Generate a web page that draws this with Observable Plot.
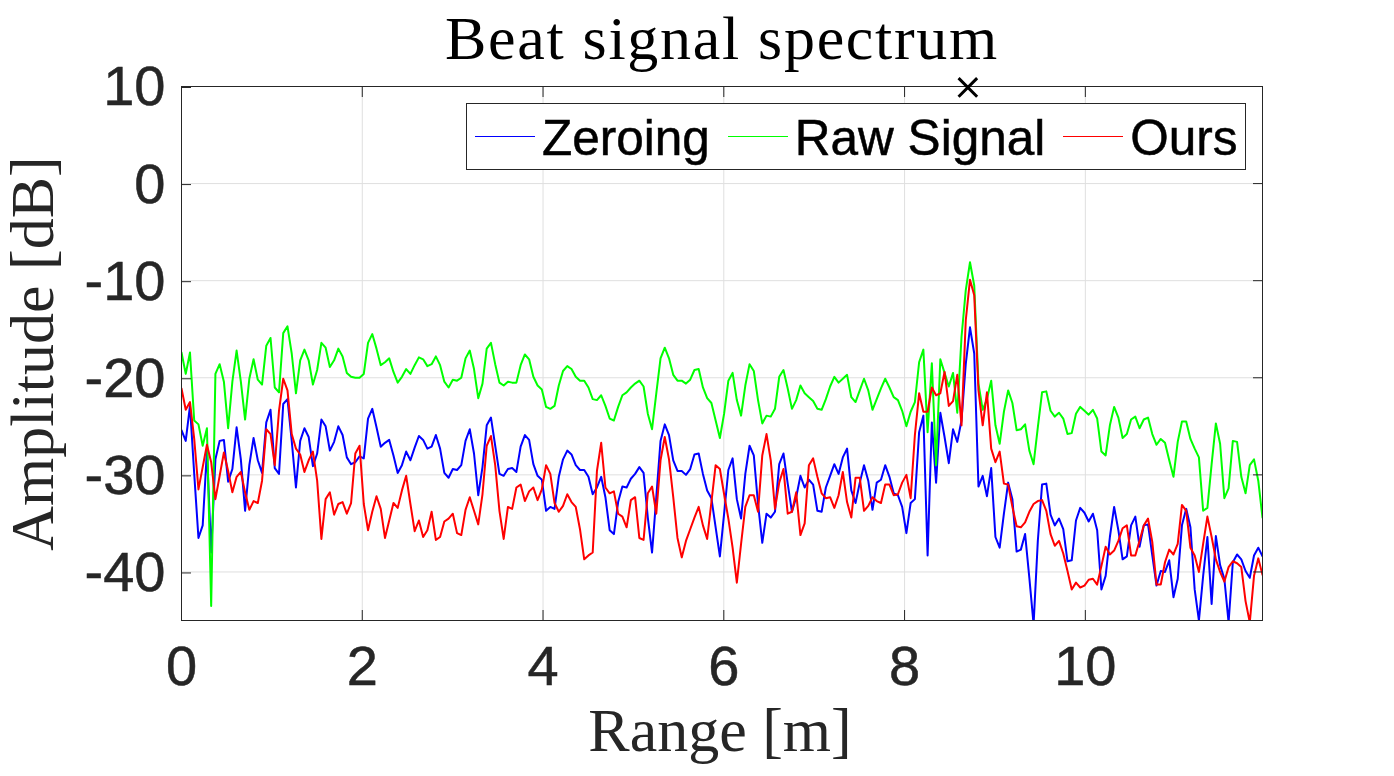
<!DOCTYPE html>
<html>
<head>
<meta charset="utf-8">
<script src="https://cdn.jsdelivr.net/npm/d3@7"></script>
<script src="https://cdn.jsdelivr.net/npm/@observablehq/plot@0.6"></script>
<style>
  body { margin: 0; background: #fff; width: 1394px; height: 776px; position: relative; overflow: hidden; }
  #title { position: absolute; left: 50px; right: 0; top: 0; height: 66px; line-height: 76px; text-align: center; font-family: "Liberation Serif", serif; font-size: 62px; letter-spacing: 1.7px; color: #000; white-space: nowrap; }
  #legend { position: absolute; left: 466px; top: 103px; width: 780px; height: 67px; box-sizing: border-box; border: 1px solid #262626; background: #fff; display: flex; align-items: center; font-family: "Liberation Sans", sans-serif; font-size: 49.5px; color: #000; -webkit-text-stroke: 0.5px #000; }
  #legend i { display: inline-block; width: 60px; height: 1.6px; margin: 0 7px 0 18px; }
  #legend i:first-child { margin-left: 8px; }
  #legend span { white-space: nowrap; position: relative; top: 1px; }
  svg g[aria-label$="tick label"] { stroke: #262626; stroke-width: 0.5px; }
</style>
</head>
<body>
<div id="chart"></div>
<div id="title">Beat signal spectrum</div>
<div id="legend"></div>
<script>
const binStep = 11.96 / 255

const zeroing = [
  -25.4,-26.5,-22.9,-29.9,-36.5,-35.2,-27.5,-38,-28.4,-26.5,
  -26.4,-30.7,-29.4,-25.1,-28.4,-33.7,-29,-26.2,-28.5,-29.8,
  -24.6,-23.3,-29.3,-29.9,-22.7,-22.2,-26.5,-31.3,-26.5,-25.2,
  -26.1,-29.1,-27.8,-24.3,-25,-27.5,-26.6,-25,-25.9,-28.2,
  -28.9,-28.7,-28.1,-28.3,-24.2,-23.2,-25.1,-27.1,-26.7,-26.4,
  -28,-29.8,-29,-27.6,-28.5,-27.2,-26,-26.4,-27.3,-27.1,
  -25.9,-27.3,-29.8,-30.3,-29.4,-29.5,-29,-26.5,-25.3,-27.8,
  -32.1,-29.2,-24.9,-24.1,-27,-29.9,-30.1,-29.4,-29.3,-29.7,
  -27.1,-25.9,-26.4,-28.9,-30.1,-30.5,-33.7,-33.3,-33.5,-30.2,
  -28.4,-27.5,-27.9,-29,-29.5,-29.5,-30.2,-32,-31.3,-30.2,
  -32.3,-35.7,-36.1,-32.8,-31.2,-31.3,-30.4,-29.9,-29.2,-29.8,
  -34.4,-38,-32.3,-26.5,-24.8,-25.9,-28.5,-29.6,-29.6,-30,
  -29.4,-27.9,-27.8,-29.9,-31.6,-32.4,-35.4,-38.4,-34,-29.5,
  -28.3,-32.5,-34.5,-29.9,-27,-28,-33,-37,-34,-34.4,
  -33.8,-28.9,-27.8,-30.9,-33.8,-32.3,-30.1,-31.3,-30.5,-31,
  -33.7,-33.8,-31.3,-30.1,-28.9,-29.9,-28.2,-27.3,-31.6,-32.9,
  -30.8,-29,-30.6,-33.6,-30.8,-30.5,-29,-30.2,-31.9,-32.1,
  -33.3,-36,-32.9,-32.5,-25.6,-23.9,-38.3,-24.6,-30.8,-23.6,
  -26.1,-28.8,-25.3,-26.6,-24.4,-18.6,-14.8,-17.5,-31.2,-30.1,
  -32.2,-29.3,-36.4,-37.5,-34,-30.8,-32.5,-37.9,-37.7,-36.1,
  -40.6,-45.4,-36.8,-31,-30.9,-34.1,-35.2,-34.5,-35.6,-38.9,
  -38.8,-34.7,-33.4,-33.9,-34.8,-34,-35.7,-41.8,-40.4,-36.4,
  -33.3,-35.7,-38.7,-38.4,-35.2,-34.3,-37.4,-35.2,-35.1,-38.3,
  -41.4,-39.9,-40,-38.8,-42.6,-40.7,-35.2,-33.5,-35.4,-41.8,
  -45,-40.4,-36.4,-43.3,-36.3,-39.3,-40.7,-45.2,-39,-38.2,
  -38.7,-39.9,-40.6,-38.3,-37.5,-38.4
]

const rawSignal = [
  -17.4,-19.6,-17.4,-24.4,-24.8,-27,-25.2,-43.5,-19.6,-18.6,
  -20.4,-25.2,-20.4,-17.2,-20.4,-24.3,-20.1,-18.1,-20.2,-20.7,
  -16.7,-15.9,-21,-21.5,-15.4,-14.7,-17.5,-21.6,-18.2,-17.1,
  -18.2,-20.7,-19.2,-16.4,-16.9,-18.9,-18.2,-17,-17.8,-19.5,
  -19.9,-20,-20,-19.6,-16.4,-15.5,-17,-18.7,-18.4,-18,
  -19.4,-20.5,-19.9,-19.1,-19.6,-18.7,-17.9,-18.1,-18.8,-18.6,
  -17.8,-18.7,-20.4,-21,-20.2,-20.3,-20,-18,-17.2,-19.1,
  -22.1,-20.6,-17,-16.4,-18.6,-20.5,-20.8,-20.4,-20.5,-20.5,
  -18.7,-17.6,-18.1,-19.9,-20.8,-21.2,-23,-23.2,-22.9,-20.8,
  -19.3,-18.8,-19.1,-19.9,-20.3,-20.3,-21,-22.2,-22.3,-21.8,
  -22.9,-24.2,-24.4,-23,-21.8,-21.5,-21,-20.6,-20.3,-20.9,
  -23.7,-25.3,-21.6,-18,-16.9,-18,-19.7,-20.3,-20.3,-20.6,
  -20.2,-19.2,-19.1,-21,-22.1,-22.6,-24.4,-26.2,-23.7,-20.3,
  -19.5,-22.3,-23.9,-20.8,-18.6,-19.3,-22.3,-24.7,-23.9,-24,
  -23.2,-19.9,-19.2,-21.1,-23.2,-22.3,-20.8,-21.6,-22,-22.4,
  -23.2,-23.3,-22.2,-20.9,-19.9,-20.5,-20.1,-19.7,-22,-22.5,
  -21.3,-20.1,-21.3,-23.3,-22.2,-21.1,-20.1,-21,-22,-22.3,
  -23.4,-25,-23.5,-22.5,-18.4,-17.1,-25.6,-18.5,-29,-18.1,
  -19.5,-20.9,-19.5,-23.6,-15.8,-11,-8.1,-10.5,-20.6,-23.3,
  -22.2,-20.3,-24.9,-26.8,-23.5,-21.3,-22.6,-25.4,-25.3,-24.8,
  -27.5,-28.9,-25.1,-21.5,-21.4,-23.4,-24,-23.6,-24.2,-25.8,
  -25.7,-23.7,-23,-23.4,-23.8,-23.3,-24.2,-27.6,-28,-24.9,
  -23,-24.1,-26.2,-25.8,-24.3,-24,-25.2,-24.3,-24.1,-25.8,
  -26.9,-26.3,-26.7,-28.5,-30.2,-26.6,-24.5,-24.5,-26.3,-27.3,
  -28.2,-33.7,-33.4,-28.9,-24.7,-26.8,-32.4,-31.4,-26.5,-26.6,
  -30.2,-31.9,-29,-28.4,-30.6,-34.4
]

const ours = [
  -21.1,-23.3,-22.5,-26.3,-31.5,-29.2,-26.9,-28.7,-32.5,-30.1,
  -27.7,-29.6,-31.8,-30.2,-29.7,-31.8,-33.6,-32.7,-32.9,-30.6,
  -25.3,-25.8,-29,-23.4,-20.1,-21.3,-25.8,-27.3,-27.9,-29.7,
  -28.5,-27.6,-30.6,-36.6,-32.5,-31.8,-34.1,-33,-32.8,-34,
  -32.9,-27.8,-27,-33,-35.7,-33.8,-32.2,-33.5,-36.5,-34.7,
  -32.9,-33.4,-31.6,-30.1,-33,-35.8,-34.7,-36.4,-35.7,-33.8,
  -36.7,-36.4,-34.8,-34.5,-34,-36,-36.2,-33.6,-32.3,-33.7,
  -35.1,-32,-27,-26,-29,-33.7,-36.6,-33.3,-33.5,-31.3,
  -31,-32.7,-31.7,-31.3,-32.6,-31.5,-29,-29.9,-32.9,-33.8,
  -33.2,-32,-32.8,-33.3,-35.6,-38.7,-38.3,-38,-29.6,-26.7,
  -31.3,-31.9,-31.7,-34,-34.3,-35.4,-32.6,-32.3,-36.5,-36.7,
  -31.9,-31.2,-34,-28.5,-26.1,-28.4,-32.3,-36.5,-38.5,-36.8,
  -35.6,-34.4,-33.3,-35.2,-36.6,-32.8,-29,-29.4,-32,-34.5,
  -37.5,-41.1,-37.1,-33.3,-32.1,-32.1,-33.8,-28,-25.8,-28.5,
  -33.5,-30.8,-29.4,-34,-33.8,-31.8,-36.2,-35,-29,-28.3,
  -30.2,-31.9,-32.4,-32.3,-33.4,-32.1,-29.7,-32.8,-34.4,-30.3,
  -30.3,-33.7,-33.2,-32.3,-32.7,-32.9,-31,-31,-32.1,-32,
  -30.8,-30,-32.4,-25.9,-21.6,-23.5,-23.5,-21,-21.8,-21.6,
  -19.4,-22.9,-22.4,-19.7,-24.9,-14.1,-9.9,-11.5,-21.3,-24.9,
  -21.5,-27.3,-28.7,-27.6,-30.9,-31,-33.3,-35.3,-35.4,-34.9,
  -33.8,-33,-32.7,-32.6,-33.7,-36.1,-37.3,-36.8,-38.1,-39.9,
  -41.8,-41.1,-41.6,-41.4,-40.8,-40.7,-41.3,-39.4,-37.4,-38.2,
  -37.8,-36.8,-35.5,-35.2,-38.3,-38.3,-36.8,-35.2,-34.5,-36.9,
  -41.3,-41.3,-39,-37.7,-38.2,-37.1,-33.1,-33.7,-37.5,-38.3,
  -40,-37.1,-34.3,-36.4,-38.7,-40,-41,-39.5,-38.9,-39.1,
  -39.5,-43,-45.2,-40.4,-38.6,-40.3
]

const xTicks = [0, 2, 4, 6, 8, 10]
const yTicks = [-40, -30, -20, -10, 0, 10]
const peakMarker = [{x: 8.7, y: 9.9}]

const series = [
  {name: "Zeroing", values: zeroing, color: "#0000ff"},
  {name: "Raw Signal", values: rawSignal, color: "#00ff00"},
  {name: "Ours", values: ours, color: "#ff0000"}
]

const ink = "#262626"
const serif = "'Liberation Serif', serif"
const sans = "'Liberation Sans', sans-serif"

const chart = Plot.plot({
  width: 1394,
  height: 776,
  marginTop: 86,
  marginBottom: 156,
  marginLeft: 181,
  marginRight: 132,
  x: {domain: [0, 11.96]},
  y: {domain: [-45, 10]},
  marks: [
    Plot.gridX(xTicks, {stroke: "#dfdfdf", strokeOpacity: 1}),
    Plot.gridY(yTicks, {stroke: "#dfdfdf", strokeOpacity: 1}),
    ...series.map(s => Plot.lineY(s.values, {
      x: (d, i) => i * binStep,
      y: d => d,
      stroke: s.color,
      strokeWidth: 2,
      clip: true
    })),
    Plot.frame({stroke: ink, strokeWidth: 1}),
    Plot.axisX({ticks: xTicks, anchor: "bottom", tickSize: -10, tickPadding: 35, fontSize: 56, fontFamily: sans, fill: ink, stroke: ink, label: null}),
    Plot.axisX({ticks: xTicks, anchor: "top", tickSize: -10, text: null, stroke: ink, label: null}),
    Plot.axisY({ticks: yTicks, anchor: "left", tickSize: -10, tickPadding: 26, tickFormat: d => String(d), fontSize: 56, fontFamily: sans, fill: ink, stroke: ink, label: null, dy: 1}),
    Plot.axisY({ticks: yTicks, anchor: "right", tickSize: -10, text: null, stroke: ink, label: null}),
    Plot.dot(peakMarker, {x: "x", y: "y", symbol: "times", r: 8.5, stroke: "#000", strokeWidth: 3}),
    Plot.text(["Range [m]"], {frameAnchor: "bottom", dy: 130, dx: -2, fontFamily: serif, fontSize: 62, fill: ink}),
    Plot.text(["Amplitude [dB]"], {frameAnchor: "left", dx: -148, rotate: -90, textAnchor: "middle", fontFamily: serif, fontSize: 62, fill: ink})
  ]
})
d3.select("#chart").append(() => chart)

const legend = d3.select("#legend")
series.forEach(s => {
  legend.append("i").style("background", s.color)
  legend.append("span").text(s.name)
})
</script>
</body>
</html>
